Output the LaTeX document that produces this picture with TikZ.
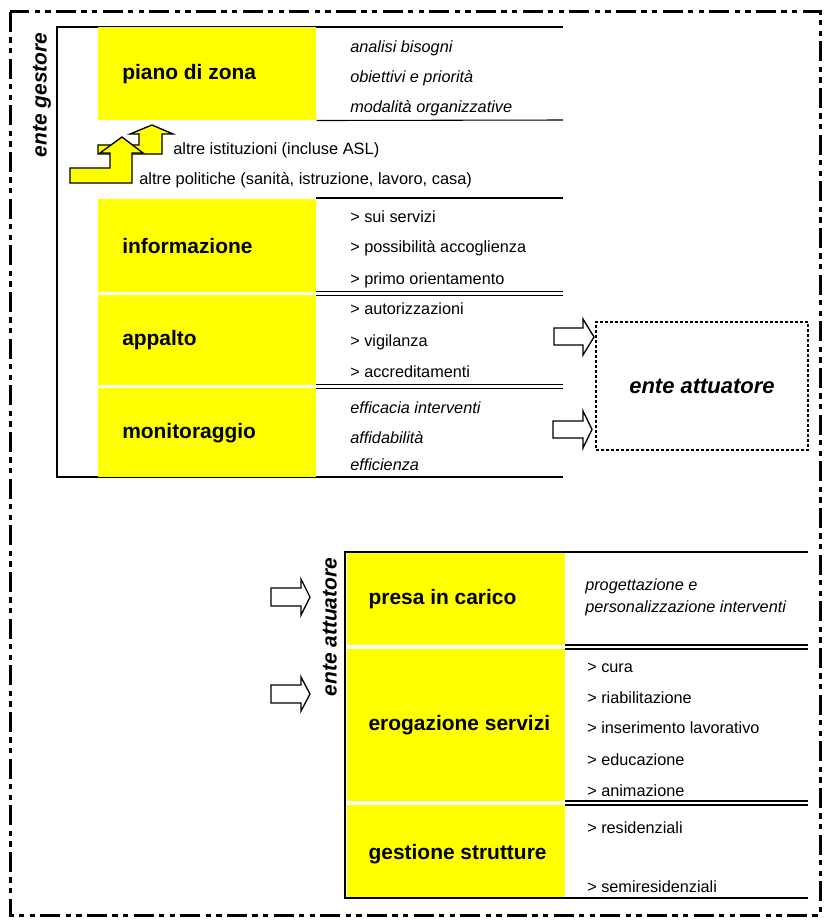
\documentclass[tikz,border=0pt]{standalone}
\usepackage{fontspec}
\setmainfont{Liberation Sans}
\definecolor{ylw}{RGB}{255,255,0}
\newcommand{\lblfont}{\fontsize{15.7pt}{18pt}\selectfont\bfseries}
\newcommand{\itmfont}{\fontsize{12.2pt}{14pt}\selectfont}
\newcommand{\altfont}{\fontsize{12.3pt}{14pt}\selectfont}
\begin{document}
\begin{tikzpicture}[x=0.75pt,y=-0.75pt,
  frame/.style={line width=1pt},
  thinline/.style={line width=0.8pt},
  thickline/.style={line width=1.3pt},
  ybox/.style={fill=ylw, draw=none, anchor=north west, inner sep=0pt, minimum width=163.5pt},
  lbl/.style={anchor=west, inner sep=0pt, font=\lblfont},
  item/.style={anchor=base west, inner sep=0pt, font=\itmfont},
  itemit/.style={item, font=\itmfont\itshape},
  alttext/.style={anchor=base west, inner sep=0pt, font=\altfont},
  harrow/.style={draw, line width=1pt, fill=white, line join=miter},
  yarrow/.style={draw, line width=1pt, fill=ylw, line join=miter},
  sidelabel/.style={rotate=90, inner sep=0pt, font=\fontsize{15.7pt}{18pt}\selectfont\bfseries\itshape}
]
\useasboundingbox (0,0) rectangle (831,920);
% outer border
\draw[line width=2.25pt, dash pattern=on 15pt off 4pt on 4pt off 4pt on 4pt off 4pt]
  (10,12) rectangle (820,915);

% ===== upper: ente gestore =====
\draw[frame] (563,27) -- (57,27) -- (57,477) -- (563,477);
\node[sidelabel] (gestore) at (42,95) {ente gestore};

\node[ybox, minimum height=69.75pt] (piano) at (98,27) {};
\node[ybox, minimum height=69.75pt] (info) at (98,199) {};
\node[ybox, minimum height=67.5pt] (appalto) at (98,295) {};
\node[ybox, minimum height=66.75pt] (monit) at (98,388) {};
\node[lbl] (pianoL) at ([xshift=18pt]piano.west) {piano di zona};
\node[lbl] (infoL) at ([xshift=18pt]info.west) {informazione};
\node[lbl] (appaltoL) at ([xshift=18pt]appalto.west) {appalto};
\node[lbl] (monitL) at ([xshift=18pt]monit.west) {monitoraggio};

\draw[thinline] (piano.south east) -- (563,120);
\draw[thinline] (316,198) -- (563,198);
\draw[thickline] (316,291.5) -- (563,291.5);
\draw[thinline] (316,295.5) -- (563,295.5);
\draw[thinline] (316,384.5) -- (563,384.5);
\draw[thinline] (316,388.5) -- (563,388.5);

\node[itemit] (p1) at (350,53) {analisi bisogni};
\node[itemit] (p2) at (350,83) {obiettivi e priorità};
\node[itemit] (p3) at (350,113) {modalità organizzative};

\node[item] (i1) at (350,222) {> sui servizi};
\node[item] (i2) at (350,252) {> possibilità accoglienza};
\node[item] (i3) at (350,284) {> primo orientamento};

\node[item] (a1) at (350,314) {> autorizzazioni};
\node[item] (a2) at (350,346) {> vigilanza};
\node[item] (a3) at (350,377) {> accreditamenti};

\node[itemit] (m1) at (350,413) {efficacia interventi};
\node[itemit] (m2) at (350,443) {affidabilità};
\node[itemit] (m3) at (350,470) {efficienza};

% yellow step arrows
\draw[yarrow] (98,154) -- (162,154) -- (162,134) -- (173,134) -- (152,125) -- (130,134)
  -- (139,134) -- (139,145) -- (98,145) -- cycle;
\draw[yarrow] (70,183) -- (132,183) -- (132,153) -- (143,153) -- (122,137) -- (100,153)
  -- (110,153) -- (110,168) -- (70,168) -- cycle;
\node[alttext] (ist) at (173,155) {altre istituzioni (incluse ASL)};
\node[alttext] (pol) at (139,184) {altre politiche (sanità, istruzione, lavoro, casa)};

% ente attuatore box
\node[draw, line width=1.5pt, dash pattern=on 2.25pt off 1.5pt,
  minimum width=159pt, minimum height=96pt, inner sep=0pt,
  font=\fontsize{16.5pt}{19pt}\selectfont\bfseries\itshape] (att) at (702,386) {ente attuatore};

\draw[harrow] (554,328) -- (583,328) -- (583,319) -- (594,337) -- (583,355) -- (583,345) -- (554,345) -- cycle;
\draw[harrow] (553,421) -- (583,421) -- (583,411) -- (592,429.5) -- (583,448) -- (583,438) -- (553,438) -- cycle;

% ===== lower: ente attuatore =====
\draw[frame] (808,552) -- (345,552) -- (345,898) -- (808,898);
\node[sidelabel] (attuatore) at (330,627) {ente attuatore};

\node[ybox, minimum height=69pt] (presa) at (347,553) {};
\node[ybox, minimum height=114pt] (erog) at (347,649) {};
\node[ybox, minimum height=69pt] (gest) at (347,805) {};
\node[lbl] (presaL) at ([xshift=16pt]presa.west) {presa in carico};
\node[lbl] (erogL) at ([xshift=16pt]erog.west) {erogazione servizi};
\node[lbl] (gestL) at ([xshift=16pt,yshift=-2pt]gest.west) {gestione strutture};

\draw[thickline] (565,645) -- (808,645);
\draw[thinline] (565,649) -- (808,649);
\draw[thickline] (565,801) -- (808,801);
\draw[thinline] (565,805) -- (808,805);

\node[itemit] (pr1) at (585,590) {progettazione e};
\node[itemit] (pr2) at (585,612) {personalizzazione interventi};

\node[item] (e1) at (587,672) {> cura};
\node[item] (e2) at (587,703) {> riabilitazione};
\node[item] (e3) at (587,733) {> inserimento lavorativo};
\node[item] (e4) at (587,765) {> educazione};
\node[item] (e5) at (587,796) {> animazione};

\node[item] (g1) at (587,833) {> residenziali};
\node[item] (g2) at (587,892) {> semiresidenziali};

\draw[harrow] (271,588) -- (301,588) -- (301,579) -- (310,597) -- (301,615) -- (301,606) -- (271,606) -- cycle;
\draw[harrow] (271,685) -- (301,685) -- (301,677) -- (310,694) -- (301,711) -- (301,703) -- (271,703) -- cycle;
\end{tikzpicture}
\end{document}
